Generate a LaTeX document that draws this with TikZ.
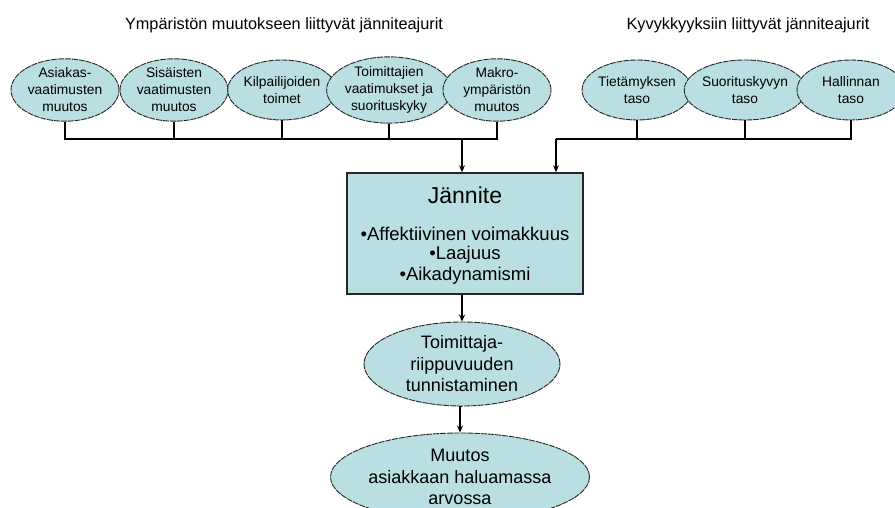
\documentclass[tikz,border=0pt]{standalone}
\usepackage{fontspec}
\setmainfont{Liberation Sans}
\usetikzlibrary{shapes.geometric,arrows.meta}
\definecolor{fillblue}{HTML}{B9DFE3}
\definecolor{edgegray}{HTML}{262626}
\tikzset{
  driver/.style={ellipse, draw=edgegray, line width=0.9pt, dash pattern=on 6pt off 0.9pt,
    fill=fillblue, minimum width=108pt, minimum height=60pt, inner sep=0pt,
    align=center, font=\fontsize{13.8}{17}\selectfont},
  outcome/.style={ellipse, draw=edgegray, line width=0.9pt, dash pattern=on 6pt off 0.9pt,
    fill=fillblue, inner sep=0pt, align=center, font=\fontsize{18}{21.5}\selectfont},
  stressbox/.style={rectangle, draw=edgegray, line width=1.5pt, fill=fillblue,
    minimum width=236pt, minimum height=121pt, inner sep=0pt},
  heading/.style={font=\fontsize{16.3}{19}\selectfont},
  link/.style={line width=1.4pt, black},
  arrowlink/.style={link, -{Stealth[length=7pt,width=6pt]}}
}
\begin{document}
\begin{tikzpicture}[x=1pt,y=-1pt]
\useasboundingbox (0,0) rectangle (895,508);
\clip (0,0) rectangle (895,508);

% headings of the two driver groups
\node[heading] (hEnv) at (284,25) {Ympäristön muutokseen liittyvät jänniteajurit};
\node[heading] (hCap) at (748,25) {Kyvykkyyksiin liittyvät jänniteajurit};

% environment-related drivers
\node[driver] (e1) at (65,90)  {Asiakas-\\vaatimusten\\muutos};
\node[driver] (e2) at (174,90) {Sisäisten\\vaatimusten\\muutos};
\node[driver] (e3) at (282,90) {Kilpailijoiden\\toimet};
\node[driver] (e4) at (389,90) {Toimittajien\\vaatimukset ja\\suorituskyky};
\node[driver] (e5) at (497,90) {Makro-\\ympäristön\\muutos};

% capability-related drivers
\node[driver] (c1) at (637,90) {Tietämyksen\\taso};
\node[driver] (c2) at (745,90) {Suorituskyvyn\\taso};
\node[driver] (c3) at (851,90) {Hallinnan\\taso};

% central stress box
\node[stressbox] (box) at (465,233.5) {};
\node[font=\fontsize{23}{26}\selectfont] (bTitle) at (465,195) {Jännite};
\node[font=\fontsize{18.5}{21}\selectfont] (b1) at (465,234) {•Affektiivinen voimakkuus};
\node[font=\fontsize{18.5}{21}\selectfont] (b2) at (465,255) {•Laajuus};
\node[font=\fontsize{18.5}{21}\selectfont] (b3) at (465,276) {•Aikadynamismi};

% consequences
\node[outcome, minimum width=196pt, minimum height=84pt] (dep) at (462,364)
  {Toimittaja-\\riippuvuuden\\tunnistaminen};
\node[outcome, minimum width=208pt, minimum height=88pt] (chg) at (460,477)
  {Muutos\\asiakkaan haluamassa\\arvossa};

% junction points of the collector lines
\coordinate (jL) at (462,139);
\coordinate (jR) at (556,139);

% environment collector
\draw[link] (e1.south) |- (e5.south |- jL) -- (e5.south);
\draw[link] (e2.south) -- (e2.south |- jL);
\draw[link] (e3.south) -- (e3.south |- jL);
\draw[link] (e4.south) -- (e4.south |- jL);
\draw[arrowlink] (jL) -- (jL |- box.north);

% capability collector
\draw[link] (jR) -| (c3.south);
\draw[link] (c1.south) -- (c1.south |- jR);
\draw[link] (c2.south) -- (c2.south |- jR);
\draw[arrowlink] (jR) -- (jR |- box.north);

% chain downwards
\draw[arrowlink] (box.south -| dep.north) -- (dep.north);
\draw[arrowlink] (dep.south) -- (dep.south -| chg.north) -- (chg.north);
\end{tikzpicture}
\end{document}
